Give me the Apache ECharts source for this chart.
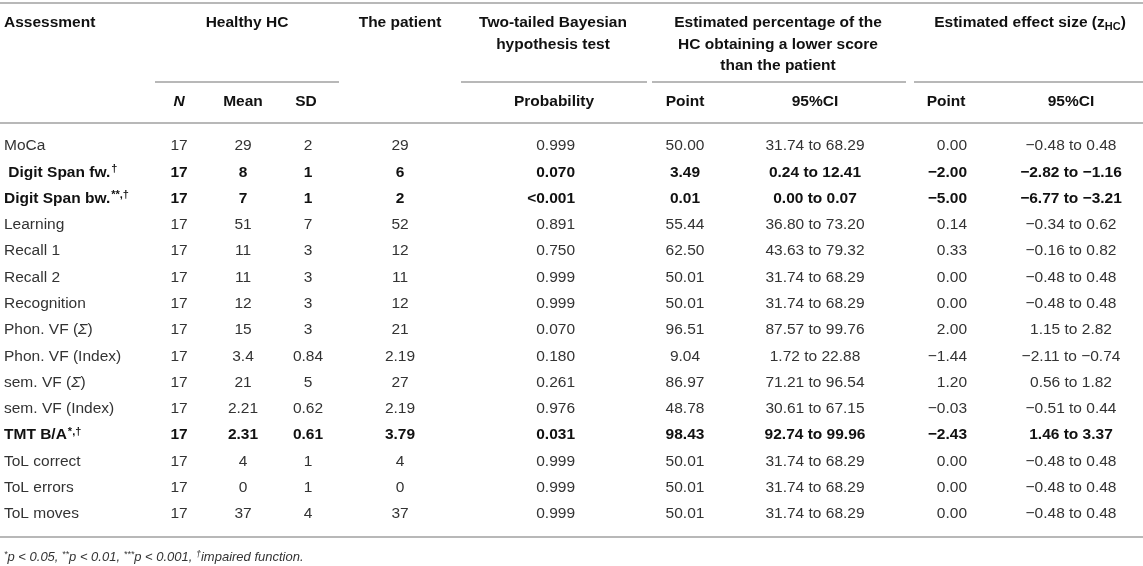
<!DOCTYPE html>
<html>
  <head>
    <meta charset="UTF-8" />
    <title>Assessment table</title>
    <script src="https://cdn.jsdelivr.net/npm/echarts@6/dist/echarts.min.js"></script>
    <style>
      html, body { margin: 0; padding: 0; background: #fff; }
    </style>
  </head>
  <body>
    <div id="table" style="width: 1143px; height: 566px"></div>
  </body>
  <script>
    // table content, one array per column
    const assessments = ["MoCa", " Digit Span fw.", "Digit Span bw.", "Learning", "Recall 1", "Recall 2",
      "Recognition", "Phon. VF (Σ)", "Phon. VF (Index)", "sem. VF (Σ)", "sem. VF (Index)", "TMT B/A",
      "ToL correct", "ToL errors", "ToL moves"];
    const marks = ["", "†", "**,†", "", "", "", "", "", "", "", "", "*,†", "", "", ""];
    const hcN = ["17", "17", "17", "17", "17", "17", "17", "17", "17", "17", "17", "17", "17", "17", "17"];
    const hcMean = ["29", "8", "7", "51", "11", "11", "12", "15", "3.4", "21", "2.21", "2.31", "4", "0", "37"];
    const hcSD = ["2", "1", "1", "7", "3", "3", "3", "3", "0.84", "5", "0.62", "0.61", "1", "1", "4"];
    const patient = ["29", "6", "2", "52", "12", "11", "12", "21", "2.19", "27", "2.19", "3.79", "4", "0", "37"];
    const probability = ["0.999", "0.070", "<0.001", "0.891", "0.750", "0.999", "0.999", "0.070", "0.180",
      "0.261", "0.976", "0.031", "0.999", "0.999", "0.999"];
    const pctPoint = ["50.00", "3.49", "0.01", "55.44", "62.50", "50.01", "50.01", "96.51", "9.04", "86.97",
      "48.78", "98.43", "50.01", "50.01", "50.01"];
    const pctCI = ["31.74 to 68.29", "0.24 to 12.41", "0.00 to 0.07", "36.80 to 73.20", "43.63 to 79.32",
      "31.74 to 68.29", "31.74 to 68.29", "87.57 to 99.76", "1.72 to 22.88", "71.21 to 96.54",
      "30.61 to 67.15", "92.74 to 99.96", "31.74 to 68.29", "31.74 to 68.29", "31.74 to 68.29"];
    const effPoint = ["0.00", "−2.00", "−5.00", "0.14", "0.33", "0.00", "0.00", "2.00", "−1.44", "1.20",
      "−0.03", "−2.43", "0.00", "0.00", "0.00"];
    const effCI = ["−0.48 to 0.48", "−2.82 to −1.16", "−6.77 to −3.21", "−0.34 to 0.62", "−0.16 to 0.82",
      "−0.48 to 0.48", "−0.48 to 0.48", "1.15 to 2.82", "−2.11 to −0.74", "0.56 to 1.82",
      "−0.51 to 0.44", "1.46 to 3.37", "−0.48 to 0.48", "−0.48 to 0.48", "−0.48 to 0.48"];
    const boldRows = [1, 2, 11];

    // column anchors (x on a 0..1143 axis) and alignment
    const columns = [
      { values: assessments, x: 4, align: "left" },
      { values: hcN, x: 179, align: "center" },
      { values: hcMean, x: 243, align: "center" },
      { values: hcSD, x: 308, align: "center" },
      { values: patient, x: 400, align: "center" },
      { values: probability, x: 575, align: "right" },
      { values: pctPoint, x: 685, align: "center" },
      { values: pctCI, x: 815, align: "center" },
      { values: effPoint, x: 967, align: "right" },
      { values: effCI, x: 1071, align: "center" },
    ];

    const W = 1143;
    const regular = "#333";
    const dark = "#111";
    const rule = "#b8b8b8";
    const fontFamily = "'Liberation Sans', Arial, sans-serif";
    const size = 15.5;

    let cells = [];
    columns.forEach((col, c) => {
      col.values.forEach((v, r) => cells.push([col.x, r, c]));
    });

    function cellText(c, r) {
      let t = columns[c].values[r];
      if (c === 0) {
        t = t.replace("Σ", "{it|Σ}");
        if (marks[r]) t += "{sup|" + marks[r] + "}";
      }
      return t;
    }

    let myChart = echarts.init(document.getElementById("table"));

    function headText(text, x, y, align, extra) {
      return {
        type: "text", x: x, y: y,
        style: Object.assign({
          text: text, align: align, verticalAlign: "middle",
          font: "bold " + size + "px " + fontFamily, fill: dark,
        }, extra || {}),
      };
    }
    function hline(x1, x2, y) {
      return {
        type: "line",
        shape: { x1: x1, y1: y, x2: x2, y2: y },
        style: { stroke: rule, lineWidth: 2 },
      };
    }

    myChart.setOption({
      animation: false,
      grid: { left: 0, right: 0, top: 133, bottom: 39 },
      xAxis: { type: "value", min: 0, max: W, show: false },
      yAxis: { type: "category", data: assessments, inverse: true, show: false },
      series: [
        {
          type: "custom",
          data: cells,
          renderItem: function (params, api) {
            const r = api.value(1);
            const c = api.value(2);
            const p = api.coord([api.value(0), r]);
            const bold = boldRows.indexOf(r) >= 0;
            const color = bold ? dark : regular;
            return {
              type: "text",
              x: p[0], y: p[1],
              style: {
                text: cellText(c, r),
                align: columns[c].align,
                verticalAlign: "middle",
                font: (bold ? "bold " : "") + size + "px " + fontFamily,
                fill: color,
                rich: {
                  it: { fontStyle: "italic", fontWeight: bold ? "bold" : "normal", fontSize: size, fontFamily: fontFamily, fill: color },
                  sup: { fontSize: 11, verticalAlign: "top", fontWeight: bold ? "bold" : "normal",
                         fontFamily: fontFamily, fill: color, padding: [0, 0, 7, 1] },
                },
              },
            };
          },
        },
      ],
      graphic: [
        hline(0, W, 3),
        hline(155, 339, 82),
        hline(461, 647, 82),
        hline(652, 906, 82),
        hline(914, W, 82),
        hline(0, W, 123),
        hline(0, W, 537),
        headText("Assessment", 4, 23, "left"),
        headText("Healthy HC", 247, 23, "center"),
        headText("The patient", 400, 23, "center"),
        headText("Two-tailed Bayesian\nhypothesis test", 553, 33.75, "center", { lineHeight: 21.5 }),
        headText("Estimated percentage of the\nHC obtaining a lower score\nthan the patient", 778, 44.5, "center", { lineHeight: 21.5 }),
        headText("Estimated effect size (z{sub|HC})", 1030, 23, "center", {
          rich: { sub: { fontSize: 11, fontWeight: "bold", fontFamily: fontFamily, fill: dark, verticalAlign: "bottom", padding: [7, 0, 0, 0] } },
        }),
        headText("N", 179, 102, "center", { font: "italic bold " + size + "px " + fontFamily }),
        headText("Mean", 243, 102, "center"),
        headText("SD", 306, 102, "center"),
        headText("Probability", 554, 102, "center"),
        headText("Point", 685, 102, "center"),
        headText("95%CI", 815, 102, "center"),
        headText("Point", 946, 102, "center"),
        headText("95%CI", 1071, 102, "center"),
        {
          type: "text", x: 4, y: 557,
          style: {
            text: "{s|*}p < 0.05, {s|**}p < 0.01, {s|***}p < 0.001, {s|†}impaired function.",
            verticalAlign: "middle",
            font: "italic 13px " + fontFamily, fill: regular,
            rich: { s: { fontSize: 9, fontStyle: "italic", fontFamily: fontFamily, fill: regular, verticalAlign: "top", padding: [0, 0, 5, 0] } },
          },
        },
      ],
    });
  </script>
</html>
